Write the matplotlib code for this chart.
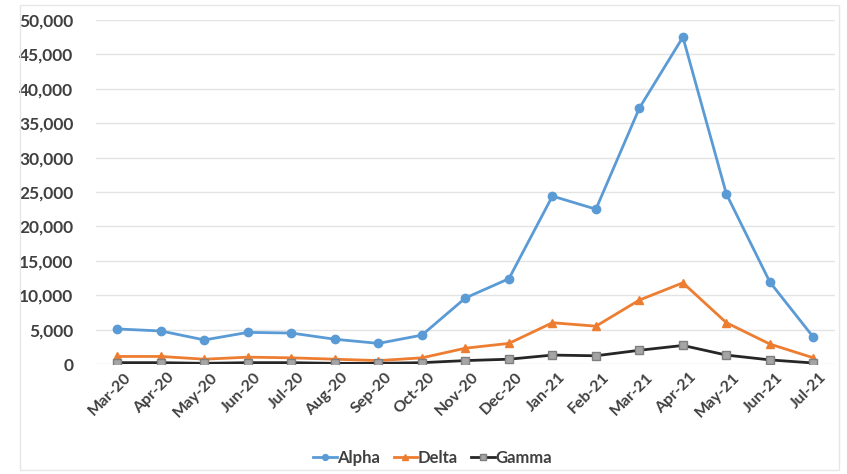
import matplotlib
matplotlib.use("Agg")
import matplotlib.pyplot as plt
import matplotlib.transforms as mtransforms
from matplotlib.ticker import FuncFormatter, MultipleLocator
from matplotlib.patches import Rectangle

months = ["Mar-20", "Apr-20", "May-20", "Jun-20", "Jul-20", "Aug-20", "Sep-20",
          "Oct-20", "Nov-20", "Dec-20", "Jan-21", "Feb-21", "Mar-21", "Apr-21",
          "May-21", "Jun-21", "Jul-21"]
alpha = [5100, 4800, 3500, 4600, 4500, 3600, 3000, 4200, 9600, 12400, 24400,
         22500, 37200, 47500, 24700, 11900, 3900]
delta = [1100, 1100, 700, 1000, 900, 700, 500, 900, 2300, 3000, 6000,
         5500, 9300, 11800, 6000, 2900, 900]
gamma = [200, 200, 100, 200, 200, 100, 100, 200, 500, 700, 1300,
         1200, 2000, 2700, 1300, 600, 150]

plt.rcParams['font.family'] = ['Lato', 'DejaVu Sans']

fig = plt.figure(figsize=(8.47, 4.74), dpi=100)
ax = fig.add_axes([0.113, 0.232, 0.873, 0.726])

# outer chart frame
fig.patches.append(Rectangle((0.024, 0.008), 0.966, 0.982, transform=fig.transFigure,
                             fill=False, edgecolor='#E6E6E6', linewidth=1.0))

x = list(range(len(months)))
ax.plot(x, alpha, color='#5B9BD5', lw=2, marker='o', ms=6, label='Alpha', zorder=3)
ax.plot(x, delta, color='#ED7D31', lw=2, marker='^', ms=6, label='Delta', zorder=3)
ax.plot(x, gamma, color='#262626', lw=2, marker='s', ms=6, mfc='#A5A5A5',
        mec='#7F7F7F', mew=1, label='Gamma', zorder=3)

ax.set_xlim(-0.5, len(months) - 0.5)
ax.set_ylim(0, 50000)
ax.yaxis.set_major_locator(MultipleLocator(5000))
ax.yaxis.set_major_formatter(FuncFormatter(lambda v, p: f"{int(v):,}"))
ax.grid(axis='y', color='#E3E3E3', lw=1)
ax.set_axisbelow(True)
for s in ax.spines.values():
    s.set_visible(False)
ax.tick_params(length=0, colors='#404040', labelsize=12.5)
ax.tick_params(axis='y', pad=16)
ax.tick_params(axis='x', pad=8, labelsize=11.5)
ax.set_xticks(x)
ax.set_xticklabels(months, rotation=45, ha='right', va='center',
                   rotation_mode='anchor', fontweight='bold')
shift = mtransforms.ScaledTranslation(11 / 100, 0, fig.dpi_scale_trans)
for lab in ax.get_xticklabels():
    lab.set_transform(lab.get_transform() + shift)
for lab in ax.get_yticklabels():
    lab.set_fontweight('bold')

handles, labels = ax.get_legend_handles_labels()
leg = fig.legend(handles, labels, loc='center', bbox_to_anchor=(0.511, 0.034),
                 ncol=3, frameon=False, prop={'weight': 'bold', 'size': 12},
                 handlelength=1.4, handletextpad=0.05, columnspacing=0.8,
                 markerscale=0.7)
for t in leg.get_texts():
    t.set_color('#404040')

fig.savefig('out.png', dpi=100)
